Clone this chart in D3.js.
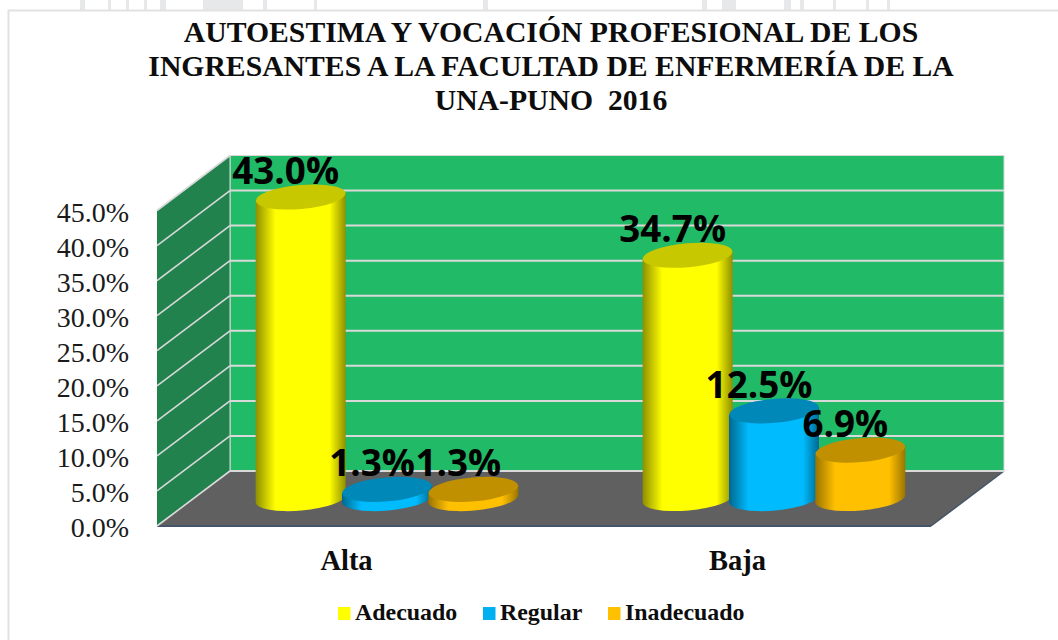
<!DOCTYPE html>
<html><head><meta charset="utf-8">
<script src="https://cdn.jsdelivr.net/npm/d3@7/dist/d3.min.js"></script>
<style>html,body{margin:0;padding:0;background:#fff}svg{display:block}</style>
</head><body><svg id="c" width="1058" height="640"></svg>
<script>
const categories = ["Alta", "Baja"];
const seriesNames = ["Adecuado", "Regular", "Inadecuado"];
const adecuado = [43.0, 34.7];
const regular = [1.3, 12.5];
const inadecuado = [1.3, 6.9];
const yTicks = [0, 5, 10, 15, 20, 25, 30, 35, 40, 45];
const titleLines = ["AUTOESTIMA Y VOCACIÓN PROFESIONAL DE LOS", "INGRESANTES A LA FACULTAD DE ENFERMERÍA DE LA", "UNA-PUNO  2016"];
const seriesValues = [adecuado, regular, inadecuado];
const colors = ["#ffff00", "#00bcff", "#ffc000"];
const darkEdge = ["#8f8f00", "#00688f", "#9a7400"];
const topColors = ["#c8c800", "#0088b8", "#c09000"];
const legendColors = ["#ffff00", "#00b0f0", "#ffc000"];

const serif = "'Liberation Serif', serif";
const svg = d3.select("#c");
const defs = svg.append("defs");

// faint background fragments above the frame
[[80,5],[108,3],[126,3],[144,3],[160,6],[203,40],[263,4],[314,3],[483,5],[702,5],[722,14],[784,7],[800,4],[833,3],[866,3],[887,3]].forEach(d => {
  svg.append("rect").attr("x", d[0]).attr("y", 0).attr("width", d[1]).attr("height", 10).attr("fill", "#e6e8ea");
});

// frame
svg.append("rect").attr("x", 8.5).attr("y", 10.5).attr("width", 1060).attr("height", 640)
  .attr("fill", "#fff").attr("stroke", "#e2e2e2").attr("stroke-width", 2);

// plot geometry
const dx = 73, dy = 55;
const fx0 = 157, fx1 = 931, fy0 = 526;
const yFront = d3.scaleLinear().domain([0, 45]).range([fy0, fy0 - 315.5]);
const yBack = v => yFront(v) - dy;
const yMid = v => yFront(v) - 27.5;
const x0 = d3.scaleBand().domain(categories).range([fx0 + dx / 2, fx1 + dx / 2]);
const x1 = d3.scaleBand().domain(d3.range(3)).range([-129.5, 129.5]);

// walls
const wallTop = yBack(45);
svg.append("rect").attr("x", fx0 + dx).attr("y", wallTop).attr("width", fx1 - fx0).attr("height", yBack(0) - wallTop)
  .attr("fill", "#21ba67").attr("stroke", "#d8d8d8").attr("stroke-width", 1);
svg.append("path").attr("d", d3.line()([[fx0, yFront(45)], [fx0 + dx, wallTop], [fx0 + dx, yBack(0)], [fx0, fy0]]))
  .attr("fill", "#22824e").attr("stroke", "#d8d8d8").attr("stroke-width", 1);
svg.append("path").attr("d", d3.line()([[fx0, fy0], [fx0 + dx, yBack(0)], [fx1 + dx, yBack(0)], [fx1, fy0]]) + "Z")
  .attr("fill", "#606060");
svg.append("line").attr("x1", fx0).attr("x2", fx1).attr("y1", fy0).attr("y2", fy0)
  .attr("stroke", "#44546a").attr("stroke-width", 2);
svg.append("line").attr("x1", fx1).attr("x2", fx1 + dx).attr("y1", fy0).attr("y2", yBack(0))
  .attr("stroke", "#44546a").attr("stroke-width", 1.5);

// gridlines
yTicks.forEach(t => {
  svg.append("line").attr("x1", fx0).attr("x2", fx0 + dx).attr("y1", yFront(t)).attr("y2", yBack(t))
    .attr("stroke", "#d9d9d9").attr("stroke-width", 1.6);
  if (t < 45) svg.append("line").attr("x1", fx0 + dx).attr("x2", fx1 + dx).attr("y1", yBack(t)).attr("y2", yBack(t))
    .attr("stroke", "#d9d9d9").attr("stroke-width", 2);
});

// y axis
const yAxis = svg.append("g").attr("transform", `translate(${fx0},2)`)
  .call(d3.axisLeft(yFront).tickValues(yTicks).tickSize(0).tickPadding(28).tickFormat(d => d3.format(".1f")(d) + "%"));
yAxis.select(".domain").remove();
yAxis.selectAll("text").attr("font-family", serif).attr("font-size", 28).attr("fill", "#1a1a1a");

// gradients
colors.forEach((c, i) => {
  const g = defs.append("linearGradient").attr("id", "cyl" + i);
  [[0, darkEdge[i]], [0.22, c], [0.82, c], [1, darkEdge[i]]].forEach(s =>
    g.append("stop").attr("offset", s[0]).attr("stop-color", s[1]));
});

// bars
const rx = 45, ry = 12, tilt = -5;
const tiltY = rx * Math.sin(-tilt * Math.PI / 180);
categories.forEach((cat, ci) => {
  seriesValues.forEach((vals, si) => {
    const cx = x0(cat) + x0.bandwidth() / 2 + x1(si) + x1.bandwidth() / 2;
    const v = vals[ci];
    const yb = yMid(0), yt = yMid(v);
    const g = svg.append("g");
    g.append("path").attr("d",
      `M${cx - rx},${yt + tiltY} L${cx - rx},${yb + tiltY} A${rx},${ry} ${tilt} 0 0 ${cx + rx},${yb - tiltY} L${cx + rx},${yt - tiltY} Z`)
      .attr("fill", `url(#cyl${si})`);
    g.append("ellipse").attr("cx", cx).attr("cy", yt).attr("rx", rx).attr("ry", ry)
      .attr("transform", `rotate(${tilt} ${cx} ${yt})`).attr("fill", topColors[si]);
  });
});

// value labels
categories.forEach((cat, ci) => {
  seriesValues.forEach((vals, si) => {
    const cx = x0(cat) + x0.bandwidth() / 2 + x1(si) + x1.bandwidth() / 2;
    svg.append("text").attr("x", cx - 15).attr("y", yMid(vals[ci]) - 13).attr("text-anchor", "middle")
      .attr("font-family", "'Open Sans', sans-serif").attr("font-weight", 700).attr("font-size", 36.8).attr("fill", "#000")
      .text(d3.format(".1f")(vals[ci]) + "%");
  });
});

// title
titleLines.forEach((t, i) => {
  svg.append("text").attr("x", 551).attr("y", 42 + i * 34).attr("text-anchor", "middle")
    .attr("font-family", serif).attr("font-weight", 700).attr("font-size", 29.7).attr("fill", "#0d0d0d")
    .style("white-space", "pre").text(t);
});

// category labels
const catLabelShift = [-40.5, -36.5];
categories.forEach((cat, i) => {
  svg.append("text").attr("x", x0(cat) + x0.bandwidth() / 2 + catLabelShift[i]).attr("y", 570).attr("text-anchor", "middle")
    .attr("font-family", serif).attr("font-weight", 700).attr("font-size", 28.5).attr("fill", "#0d0d0d").text(cat);
});

// legend
const legendX = [338, 483, 608];
seriesNames.forEach((n, i) => {
  svg.append("rect").attr("x", legendX[i]).attr("y", 607).attr("width", 12.5).attr("height", 13).attr("fill", legendColors[i]);
  svg.append("text").attr("x", legendX[i] + 17).attr("y", 620).attr("font-family", serif).attr("font-weight", 700)
    .attr("font-size", 23.9).attr("fill", "#0d0d0d").text(n);
});
</script></body></html>
